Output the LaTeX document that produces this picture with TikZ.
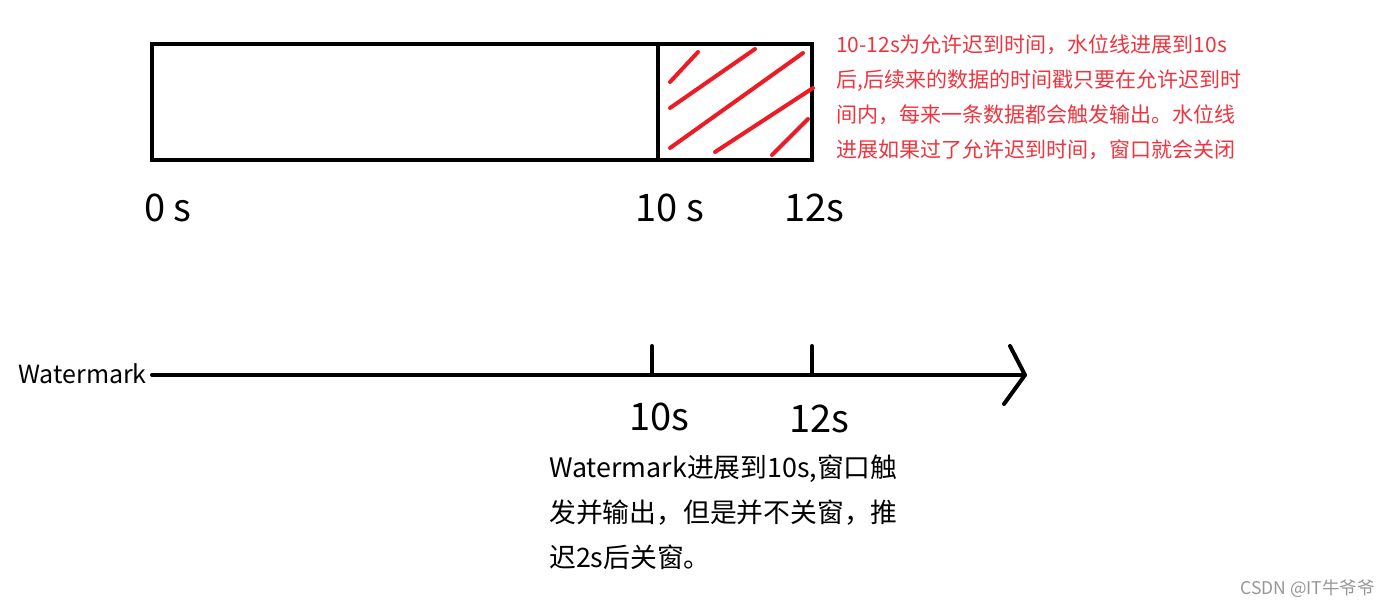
\documentclass[tikz,border=0pt]{standalone}
\usepackage{fontspec}
\setmainfont{Noto Sans CJK SC}
\definecolor{hatchred}{RGB}{237,28,36}
\definecolor{notered}{RGB}{238,52,62}
\definecolor{marktext}{RGB}{150,150,150}
\tikzset{
  box/.style={line width=4.8pt},
  hatch/.style={hatchred, line width=4pt, line cap=round},
  axisline/.style={line width=4pt, line cap=round, line join=round},
  bigtick/.style={font=\fontsize{38}{40}\selectfont, inner sep=0pt, anchor=base},
}
\begin{document}
\begin{tikzpicture}[x=1pt,y=-1pt]
\useasboundingbox (0,0) rectangle (1389,606);
% window 0-12s
\coordinate (win0) at (152,44);
\coordinate (win10) at (658,44);
\coordinate (win12) at (812,160);
\draw[box] (win0) rectangle (win12);
\draw[box] (win10) -- (658,160);
% lateness part: hatching
\foreach \xa/\ya/\xb/\yb in {670/82/698/52, 670/108/755/49, 670/148/803/53, 715/152/813/88, 772/155/808/119} {
  \draw[hatch] (\xa,\ya) -- (\xb,\yb);
}
\node[bigtick] (l0) at (168,221) {0 s};
\node[bigtick] (l10) at (670,221) {10 s};
\node[bigtick] (l12) at (814,221) {12s};
\node[anchor=north west, inner sep=0pt, align=left, text=notered,
  font=\fontsize{21}{35}\selectfont] (note) at (836,35)
  {10-12s为允许迟到时间，水位线进展到10s\\
   后,后续来的数据的时间戳只要在允许迟到时\\
   间内，每来一条数据都会触发输出。水位线\\
   进展如果过了允许迟到时间，窗口就会关闭};
% watermark axis
\node[anchor=base west, inner sep=0pt, font=\fontsize{25}{27}\selectfont] (wm) at (18,383) {Watermark};
\coordinate (axisstart) at (152,375);
\coordinate (axisend) at (1025,375);
\draw[axisline] (axisstart) -- (axisend);
\draw[axisline] (1010,346) -- (axisend) -- (1004,404);
\foreach \x/\name in {652/10, 812/12} {
  \draw[axisline] (\x,346) -- (\x,375);
}
\node[bigtick] (t10) at (659,430) {10s};
\node[bigtick] (t12) at (819,432) {12s};
\node[anchor=north west, inner sep=0pt, align=left,
  font=\fontsize{26.8}{45}\selectfont] (expl) at (549,455)
  {Watermark进展到10s,窗口触\\
   发并输出，但是并不关窗，推\\
   迟2s后关窗。};
\node[anchor=base east, inner sep=0pt, text=marktext,
  font=\fontsize{17.5}{19}\selectfont] (csdn) at (1375,594) {CSDN @IT牛爷爷};
\end{tikzpicture}
\end{document}
